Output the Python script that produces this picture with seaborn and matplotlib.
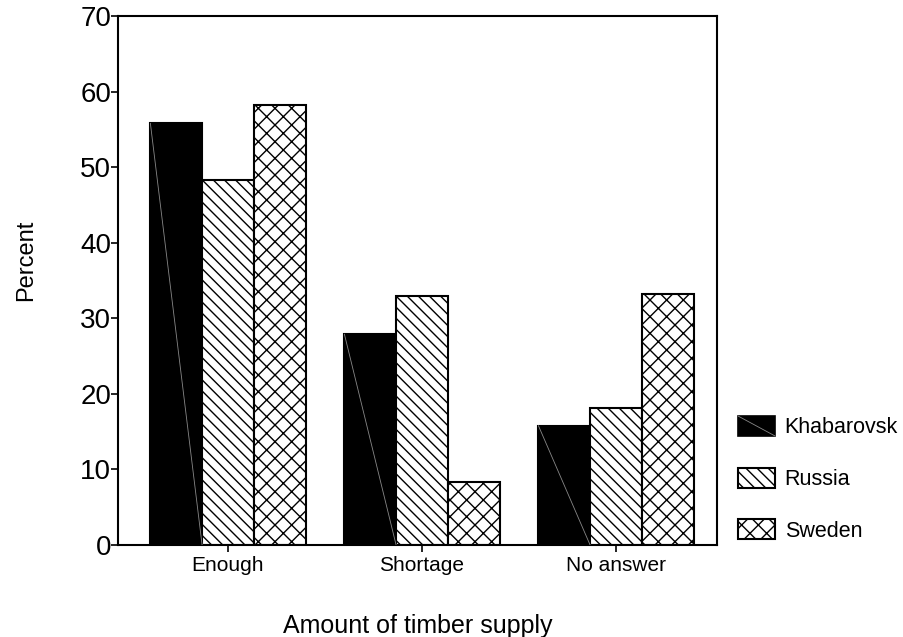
import matplotlib
matplotlib.use('Agg')
import matplotlib.pyplot as plt
import numpy as np
import pandas as pd
import seaborn as sns
from matplotlib.legend_handler import HandlerPatch
from matplotlib.lines import Line2D
from matplotlib.patches import Rectangle

answers = ['Enough', 'Shortage', 'No answer']
regions = ['Khabarovsk', 'Russia', 'Sweden']
khabarovsk = [55.8, 27.9, 15.8]
russia = [48.3, 33.0, 18.1]
sweden = [58.2, 8.3, 33.2]

df = pd.DataFrame({
    'answer': answers * 3,
    'region': np.repeat(regions, 3),
    'percent': khabarovsk + russia + sweden,
})

sns.set_theme(style='white')
plt.rcParams['font.family'] = ['Liberation Sans', 'DejaVu Sans']
plt.rcParams['text.color'] = 'black'
plt.rcParams['axes.labelcolor'] = 'black'
plt.rcParams['xtick.color'] = 'black'
plt.rcParams['ytick.color'] = 'black'
plt.rcParams['hatch.linewidth'] = 1.0


class BlackBarHandler(HandlerPatch):
    # black box with the faint diagonal seen on the black bars
    def create_artists(self, legend, orig_handle, xdescent, ydescent,
                       width, height, fontsize, trans):
        x0, y0 = -xdescent, -ydescent
        box = Rectangle((x0, y0), width, height, facecolor='black',
                        edgecolor='black', linewidth=1.2, transform=trans)
        diag = Line2D([x0, x0 + width], [y0 + height, y0], color='#888888',
                      lw=0.6, transform=trans)
        return [box, diag]


fig = plt.figure(figsize=(9.04, 6.37), dpi=100)
ax = fig.add_axes([0.1305, 0.1444, 0.6625, 0.8306])

sns.barplot(data=df, x='answer', y='percent', hue='region', order=answers,
            hue_order=regions, palette=['black', 'white', 'white'],
            edgecolor='black', linewidth=1.5, saturation=1, width=0.8,
            ax=ax, legend=False)

hatches = [None, '\\\\\\', 'xx']
for cont, h in zip(ax.containers, hatches):
    for p in cont.patches:
        if h:
            p.set_hatch(h)

# thin grey diagonal artifact on the black bars
for p in ax.containers[0].patches:
    x0, w, hgt = p.get_x(), p.get_width(), p.get_height()
    ax.plot([x0, x0 + w], [hgt, 0], color='#888888', lw=0.6, zorder=5)

ax.set_ylim(0, 70)
ax.set_xlim(-0.567, 2.52)
ax.set_yticks(range(0, 71, 10))
ax.tick_params(axis='y', left=True, length=5, width=1.2, labelsize=20, pad=0)
ax.tick_params(axis='x', bottom=True, length=5, width=1.2, labelsize=15, pad=3)
for s in ax.spines.values():
    s.set_color('black')
    s.set_linewidth(1.5)

ax.set_xlabel('Amount of timber supply', fontsize=18, va='baseline')
ax.xaxis.set_label_coords(0.5, -0.166)
ax.set_ylabel('Percent', fontsize=17, va='baseline')
ax.yaxis.set_label_coords(-0.144, 0.539)

ax.legend(handles=list(ax.containers), labels=regions, loc='upper left',
          bbox_to_anchor=(738 / 904, 1 - 416 / 637), bbox_transform=fig.transFigure,
          frameon=False, borderpad=0, borderaxespad=0, fontsize=15.5,
          handlelength=1.72, handleheight=1.05, labelspacing=1.36, handletextpad=0.45,
          handler_map={ax.containers[0]: BlackBarHandler()})

fig.savefig('out.png', dpi=100)
